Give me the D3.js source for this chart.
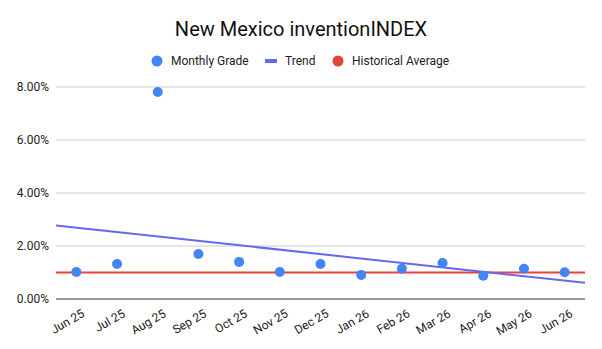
<!DOCTYPE html>
<html>
<head>
<meta charset="utf-8">
<script src="https://cdn.jsdelivr.net/npm/d3@7"></script>
<style>
  body { margin: 0; background: #fff; }
  text { font-family: Roboto, "Noto Sans", sans-serif; }
</style>
</head>
<body>
<div id="chart"></div>
<script>
const width = 602;
const height = 349;
const margin = { top: 87, right: 17, bottom: 50, left: 56 };

// data
const months = ["Jun 25", "Jul 25", "Aug 25", "Sep 25", "Oct 25", "Nov 25", "Dec 25",
  "Jan 26", "Feb 26", "Mar 26", "Apr 26", "May 26", "Jun 26"];
const grades = [1.02, 1.32, 7.81, 1.70, 1.40, 1.02, 1.32, 0.91, 1.14, 1.36, 0.88, 1.14, 1.01];
const historicalAverage = 1.0;
const yTicks = [0, 2, 4, 6, 8];

const svg = d3.select("#chart")
  .append("svg")
  .attr("width", width)
  .attr("height", height);

const x = d3.scaleBand()
  .domain(months)
  .range([margin.left, width - margin.right]);

const y = d3.scaleLinear()
  .domain([0, 8])
  .range([height - margin.bottom, margin.top]);

// title
svg.append("text")
  .attr("x", width / 2)
  .attr("y", 36)
  .attr("text-anchor", "middle")
  .attr("font-size", "20px")
  .attr("fill", "#111")
  .text("New Mexico inventionINDEX");

// gridlines + y labels
svg.append("g")
  .selectAll("line")
  .data(yTicks.filter(d => d > 0))
  .enter()
  .append("line")
  .attr("x1", margin.left)
  .attr("x2", width - margin.right)
  .attr("y1", d => y(d))
  .attr("y2", d => y(d))
  .attr("stroke", "#ccc")
  .attr("stroke-width", 1);

svg.append("g")
  .selectAll("text")
  .data(yTicks)
  .enter()
  .append("text")
  .attr("x", margin.left - 7)
  .attr("y", d => y(d))
  .attr("dy", "0.35em")
  .attr("text-anchor", "end")
  .attr("font-size", "12px")
  .attr("fill", "#222")
  .text(d => d.toFixed(2) + "%");

// historical average
svg.append("line")
  .attr("x1", margin.left)
  .attr("x2", width - margin.right)
  .attr("y1", y(historicalAverage))
  .attr("y2", y(historicalAverage))
  .attr("stroke", "#ee4134")
  .attr("stroke-width", 2);

// linear trend (least squares over the monthly grades)
const n = grades.length;
const meanX = d3.mean(grades, (d, i) => i);
const meanY = d3.mean(grades);
const slope = d3.sum(grades, (d, i) => (i - meanX) * (d - meanY)) /
  d3.sum(grades, (d, i) => (i - meanX) * (i - meanX));
const trendAt = i => meanY + slope * (i - meanX);
const idx = d3.scaleLinear().domain([-0.5, n - 0.5]).range([margin.left, width - margin.right]);

svg.append("line")
  .attr("x1", idx(-0.5))
  .attr("x2", idx(n - 0.5))
  .attr("y1", y(trendAt(-0.5)))
  .attr("y2", y(trendAt(n - 0.5)))
  .attr("stroke", "#6666f5")
  .attr("stroke-width", 2);

// baseline
svg.append("line")
  .attr("x1", margin.left)
  .attr("x2", width - margin.right)
  .attr("y1", y(0))
  .attr("y2", y(0))
  .attr("stroke", "#333")
  .attr("stroke-width", 1);

// points
svg.append("g")
  .selectAll("circle")
  .data(grades)
  .enter()
  .append("circle")
  .attr("cx", (d, i) => x(months[i]) + x.bandwidth() / 2)
  .attr("cy", d => y(d))
  .attr("r", 5)
  .attr("fill", "#4285f4");

// x labels, rotated
svg.append("g")
  .selectAll("text")
  .data(months)
  .enter()
  .append("text")
  .attr("text-anchor", "end")
  .attr("font-size", "12px")
  .attr("fill", "#222")
  .attr("transform", d => `translate(${x(d) + x.bandwidth() / 2 + 9},${y(0) + 17}) rotate(-30)`)
  .text(d => d);

// legend
const legend = [
  { label: "Monthly Grade", color: "#4285f4", type: "circle", x: 157, tx: 171 },
  { label: "Trend", color: "#6666f5", type: "line", x: 271, tx: 285 },
  { label: "Historical Average", color: "#e0463a", type: "circle", x: 338, tx: 352 }
];
const lg = svg.append("g");
legend.forEach(l => {
  if (l.type === "circle") {
    lg.append("circle")
      .attr("cx", l.x)
      .attr("cy", 61)
      .attr("r", 5.5)
      .attr("fill", l.color);
  } else {
    lg.append("rect")
      .attr("x", l.x - 6)
      .attr("y", 59)
      .attr("width", 12)
      .attr("height", 4)
      .attr("fill", l.color);
  }
  lg.append("text")
    .attr("x", l.tx)
    .attr("y", 61)
    .attr("dy", "0.35em")
    .attr("font-size", "12px")
    .attr("fill", "#222")
    .text(l.label);
});
</script>
</body>
</html>
